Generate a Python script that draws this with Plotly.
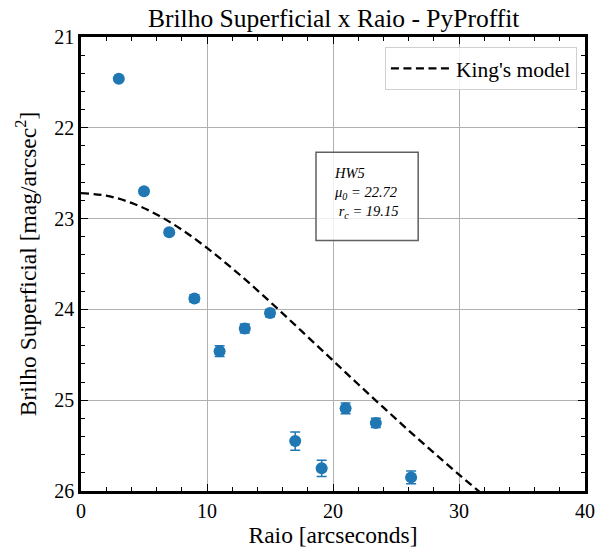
import plotly.graph_objects as go

# Observed profile
raio = [3.0, 5.0, 7.0, 9.0, 11.0, 13.0, 15.0, 17.0, 19.1, 21.0, 23.4, 26.2]
brilho = [21.46, 22.70, 23.15, 23.88, 24.46, 24.21, 24.04, 25.45, 25.75, 25.09, 25.25, 25.85]
erro = [0.02, 0.03, 0.03, 0.04, 0.06, 0.05, 0.04, 0.10, 0.09, 0.06, 0.05, 0.07]

# King's model curve
modelo_r = [0, 2, 4, 6, 8, 10, 12, 14, 16, 18, 20, 22, 24, 26, 28, 30, 32]
modelo_mu = [22.72, 22.747, 22.827, 22.954, 23.122, 23.323, 23.548, 23.790, 24.044,
             24.303, 24.564, 24.824, 25.080, 25.333, 25.579, 25.819, 26.052]

x_ticks = [0, 10, 20, 30, 40]
y_ticks = [21, 22, 23, 24, 25, 26]

FONT = "Liberation Serif"

fig = go.Figure()
fig.add_trace(go.Scatter(
    x=raio, y=brilho, mode="markers",
    marker=dict(color="#1f77b4", size=12),
    error_y=dict(type="data", array=erro, color="#1f77b4", thickness=1.5, width=5),
    showlegend=False,
))
fig.add_trace(go.Scatter(
    x=modelo_r, y=modelo_mu, mode="lines", line_shape="spline",
    line=dict(color="black", width=2.3, dash="8px,4.5px"),
    name="King's model",
))

axis_common = dict(
    showline=True, linecolor="black", linewidth=2.5, mirror="allticks",
    ticks="inside", ticklen=7, tickwidth=1.3, tickcolor="black",
    showgrid=True, gridcolor="#b0b0b0", gridwidth=1, zeroline=False,
    tickfont=dict(family=FONT, size=20, color="black"),
    automargin=False,
)

fig.update_xaxes(
    range=[0, 40], tickvals=x_ticks,
    minor=dict(ticks="inside", dtick=2, ticklen=4, tickcolor="black", showgrid=False),
    title=dict(text="Raio [arcseconds]", font=dict(family=FONT, size=23.5, color="black"), standoff=6),
    **axis_common,
)
fig.update_yaxes(
    range=[26, 21], tickvals=y_ticks,
    minor=dict(ticks="inside", dtick=0.2, ticklen=4, tickcolor="black", showgrid=False),
    title=dict(text="Brilho Superficial [mag/arcsec<sup>2</sup>]",
               font=dict(family=FONT, size=23.5, color="black"), standoff=12),
    **axis_common,
)

fig.add_shape(type="rect", xref="x", yref="y", x0=18.65, x1=26.76, y0=22.27, y1=23.24,
              line=dict(color="#606060", width=1.5), fillcolor="rgba(255,255,255,0.8)")
fig.add_annotation(
    xref="x", yref="y", x=19.95, y=22.72, xanchor="left", yanchor="middle",
    text="<i>HW5</i><br><i>μ<sub>0</sub> = 22.72</i><br><i> r<sub>c</sub> = 19.15</i>",
    showarrow=False, align="left",
    font=dict(family=FONT, size=14.5, color="black"),
)

fig.update_layout(
    width=598, height=554,
    margin=dict(l=81, r=13, t=37, b=63),
    paper_bgcolor="white", plot_bgcolor="white",
    title=dict(text="Brilho Superficial x Raio - PyProffit", x=0.558, xref="container",
               xanchor="center", y=0.968, yanchor="middle",
               font=dict(family=FONT, size=25.5, color="black")),
    legend=dict(x=0.984, y=0.978, xanchor="right", yanchor="top",
                bordercolor="#d0d0d0", borderwidth=1, bgcolor="rgba(255,255,255,0.85)",
                font=dict(family=FONT, size=21.5, color="black"),
                itemwidth=60),
    font=dict(family=FONT),
)

fig.write_html("out.html", config={"displayModeBar": False},
               post_script="document.body.style.margin='0px';")
